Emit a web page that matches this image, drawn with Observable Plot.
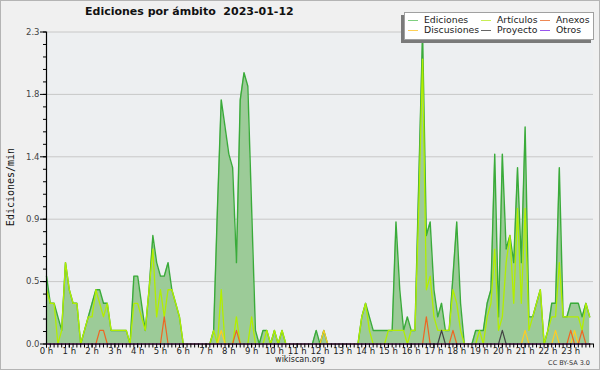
<!DOCTYPE html>
<html><head><meta charset="utf-8">
<script src="https://cdn.jsdelivr.net/npm/d3@7"></script>
<script src="https://cdn.jsdelivr.net/npm/@observablehq/plot@0.6"></script>
<style>
body{margin:0;background:#f0f0f0;}
#wrap{position:relative;width:600px;height:370px;background:#f0f0f0;overflow:hidden;font-family:"DejaVu Sans",sans-serif;}
#wrap svg{position:absolute;left:0;top:0;}
.border{position:absolute;left:0;top:0;width:598px;height:368px;border:1px solid #b4b4b4;pointer-events:none;}
.title{position:absolute;top:5px;left:85px;font:bold 11px "DejaVu Sans";white-space:pre;color:#111;}
.ylabel{position:absolute;left:10px;top:187px;font:10px "DejaVu Sans Mono";color:#111;transform:translate(-50%,-50%) rotate(-90deg);white-space:nowrap;}
.legend{position:absolute;left:404px;top:12px;width:188px;height:26px;background:#fff;border:1px solid #a0a0a0;box-shadow:-3px 3px 0 #7a7a7a;}
.li{position:absolute;font:9.3px "DejaVu Sans";color:#222;white-space:nowrap;line-height:10px;}
.sw{position:absolute;height:1px;width:10px;}
.foot{position:absolute;font:8px "DejaVu Sans";color:#222;white-space:nowrap;}
.lic{position:absolute;font:6.5px "DejaVu Sans";color:#333;white-space:nowrap;}
</style></head>
<body>
<div id="wrap"></div>
<script>
// 10-minute bins, values in edits per minute
const ediciones = [
0.5,0.3,0.3,0.2,0.1,0.6,0.4,0.3,0.3,0.0, 0.1,0.2,0.3,0.4,0.4,0.3,0.3,0.1,0.1,0.1,
0.1,0.1,0.0,0.5,0.5,0.3,0.1,0.4,0.8,0.6, 0.5,0.5,0.6,0.4,0.3,0.2,0,0,0,0,
0,0,0,0,0.1,1.0,1.8,1.6,1.4,1.3, 0.6,1.8,2.0,1.9,1.0,0.1,0,0.1,0.1,0,
0.1,0,0.1,0,0,0,0,0,0,0, 0,0.1,0,0.1,0,0,0,0,0,0,
0,0,0,0.2,0.3,0.2,0.1,0.1,0.1,0.1, 0.1,0.1,0.9,0.4,0.1,0.2,0.1,0.1,1.2,2.3,
0.8,0.9,0.4,0.2,0.3,0.1,0.1,0.5,0.9,0.3, 0,0,0,0.1,0.1,0.1,0.3,0.4,1.4,0.2,
1.4,0.7,0.8,0.6,1.3,0.6,1.6,0.2,0.2,0.3, 0.4,0,0.1,0.3,0.3,1.3,0.2,0.2,0.3,0.3,
0.3,0.2,0.3,0.2];
const articulos = [
0.4,0.3,0.3,0,0.1,0.6,0.4,0.3,0.3,0, 0.1,0.2,0.2,0.4,0.3,0.2,0.3,0.1,0.1,0.1,
0.1,0.1,0,0.3,0.3,0.2,0.1,0.4,0.7,0.2, 0.4,0.2,0.4,0.4,0.3,0.2,0,0,0,0,
0,0,0,0,0.1,0,0.4,0,0,0, 0.2,0,0,0,0.2,0,0,0,0.1,0,
0.1,0,0.1,0,0,0,0,0,0,0, 0,0,0,0,0,0,0,0,0,0,
0,0,0,0.2,0.3,0.1,0,0,0,0, 0.1,0.1,0.1,0.1,0.1,0,0.1,0.1,1.0,2.1,
0.4,0.5,0.2,0.1,0.1,0.1,0.1,0.4,0.3,0.1, 0,0,0,0,0.1,0,0.2,0.3,0.7,0.1,
0.2,0.6,0.8,0.3,1.0,0.3,1.0,0.1,0.2,0.3, 0.4,0,0.1,0.2,0.2,0.6,0.2,0.2,0.2,0.2,
0.2,0.1,0.3,0.2];
const anexosAt = [14,15,31,50,100,107,138,141];
const anexosVal = [0.1,0.1,0.2,0.1,0.2,0.1,0.1,0.1];
const discusionesAt = [46,73,126,134,139];
const discusionesVal = [0.1,0.1,0.1,0.1,0.1];
const proyectoAt = [104,120];
const proyectoVal = [0.1,0.1];
const otrosAt = [];
const otrosVal = [];

const yTicks = [0, 0.46, 0.92, 1.38, 1.84, 2.3];
const hourLabels = d3.range(24).map(h => h + " h");

const series = [
  {name:"Ediciones", color:"#3aab3a", sw:"#7fcf7f"},
  {name:"Artículos", color:"#b2ee00", sw:"#c8ee55"},
  {name:"Anexos", color:"#ee6622", sw:"#ee8855"},
  {name:"Discusiones", color:"#ffcc22", sw:"#ffd055"},
  {name:"Proyecto", color:"#444444", sw:"#666666"},
  {name:"Otros", color:"#9944ee", sw:"#9955ee"}
];

function sparse(at, val){ const a = new Array(144).fill(0); at.forEach((k,j)=>a[k]=val[j]); return a; }
const anexos = sparse(anexosAt, anexosVal);
const discusiones = sparse(discusionesAt, discusionesVal);
const proyecto = sparse(proyectoAt, proyectoVal);
const otros = sparse(otrosAt, otrosVal);

const data = ediciones.map((v,i) => ({m: i*10, ed: v, art: articulos[i], anx: anexos[i], dis: discusiones[i], pro: proyecto[i], otr: otros[i]}));

const yMinor = d3.range(26).map(k => k*0.092).filter(v => v <= 2.3001);
const xMinor = d3.range(0, 1441, 10);
const xHours = d3.range(0, 1440, 60);

const chart = Plot.plot({
  width: 600, height: 370,
  marginLeft: 46, marginRight: 7, marginTop: 31.5, marginBottom: 26.5,
  style: {background: "transparent", fontFamily: "DejaVu Sans", fontSize: "8.5px", color: "#333", overflow: "visible"},
  x: {domain: [0, 1440], label: null},
  y: {domain: [0, 2.3], label: null},
  marks: [
    Plot.frame({fill: "#edeff1", stroke: null}),
    Plot.gridY(yTicks, {stroke: "#c8c8c8", strokeOpacity: 1}),
    Plot.areaY(data, {x: "m", y: "ed", fill: "#9ccb98"}),
    Plot.line(data, {x: "m", y: "ed", stroke: series[0].color, strokeWidth: 1.4}),
    Plot.line(data, {x: "m", y: "art", stroke: series[1].color, strokeWidth: 1.3}),
    Plot.line(data, {x: "m", y: "dis", stroke: series[3].color, strokeWidth: 1.2}),
    Plot.line(data, {x: "m", y: "anx", stroke: series[2].color, strokeWidth: 1.2}),
    Plot.line(data, {x: "m", y: "pro", stroke: series[4].color, strokeWidth: 1.2}),
    Plot.line(data, {x: "m", y: "otr", stroke: series[5].color, strokeWidth: 1.2}),
    Plot.axisY(yMinor, {anchor: "left", label: null, tickSize: 3, tickFormat: () => "", stroke: "#000"}),
    Plot.axisY(yTicks, {anchor: "left", label: null, tickSize: 6, tickPadding: 1, tickFormat: d3.format(".1f"), fill: "#444", stroke: "#000", fontSize: 8.5}),
    Plot.axisX(xMinor, {anchor: "bottom", label: null, tickSize: 4, tickFormat: () => "", stroke: "#000"}),
    Plot.axisX(xHours, {anchor: "bottom", label: null, tickSize: 4, tickPadding: 0, tickFormat: d => hourLabels[d/60], fill: "#222", stroke: "#000", fontSize: 8.5}),
    Plot.ruleX([0], {stroke: "#000", strokeWidth: 1.2}),
    Plot.ruleY([0], {stroke: "#000", strokeWidth: 1.2})
  ]
});

const wrap = document.getElementById("wrap");
wrap.appendChild(chart);

function add(cls, text, css){ const d = document.createElement("div"); d.className = cls; d.textContent = text; Object.assign(d.style, css||{}); wrap.appendChild(d); return d; }

add("title", "Ediciones por ámbito  2023-01-12");
add("ylabel", "Ediciones/min");

const legend = add("legend", "");
const colX = [3, 76, 135];
const rowY = [7, 17];
series.forEach((s, k) => {
  const c = k % 3, r = Math.floor(k / 3);
  const sw = document.createElement("div"); sw.className = "sw";
  Object.assign(sw.style, {left: colX[c] + "px", top: rowY[r] + "px", background: s.sw});
  legend.appendChild(sw);
  const t = document.createElement("div"); t.className = "li"; t.textContent = s.name;
  Object.assign(t.style, {left: (colX[c] + 16) + "px", top: (rowY[r] - 5) + "px"});
  legend.appendChild(t);
});

add("foot", "wikiscan.org", {left: "300px", top: "355px", transform: "translateX(-50%)"});
add("lic", "CC BY-SA 3.0", {right: "10px", top: "359px"});
add("border", "");
</script>
</body></html>
